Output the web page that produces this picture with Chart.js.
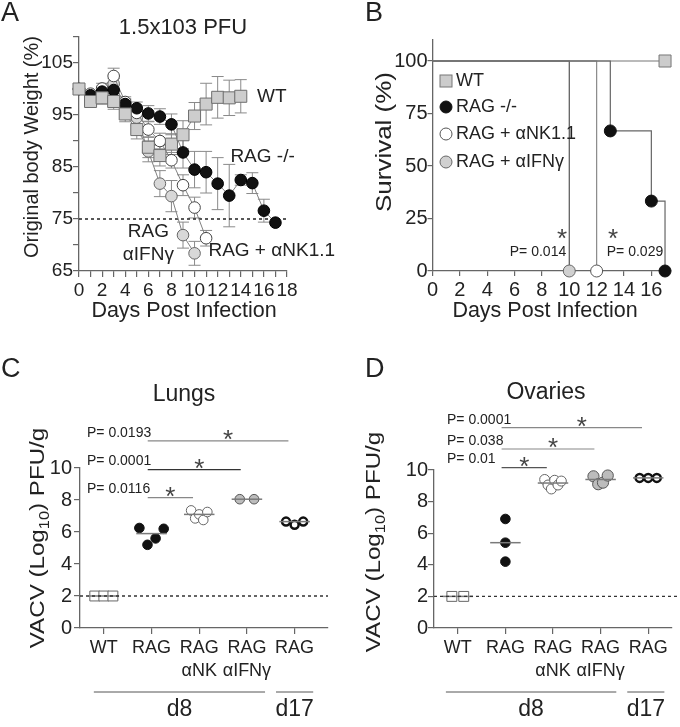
<!DOCTYPE html>
<html><head><meta charset="utf-8">
<script src="https://cdn.jsdelivr.net/npm/chart.js"></script>
<style>
html,body{margin:0;padding:0;background:#fff;}
#wrap{position:relative;width:680px;height:727px;overflow:hidden;background:#fff;}
canvas{position:absolute;}
</style></head><body>
<div id="wrap">
<canvas id="cA" width="340" height="330" style="left:0;top:0"></canvas>
<canvas id="cB" width="340" height="330" style="left:340px;top:0"></canvas>
<canvas id="cC" width="340" height="397" style="left:0;top:330px"></canvas>
<canvas id="cD" width="340" height="397" style="left:340px;top:330px"></canvas>
</div>
<script>
// ---------- Panel A: body weight ----------
const wtDays = [0,1,2,3,4,5,6,7,8,9,10,11,12,13,14];
const wtWeight = [100,97.6,98.3,97.6,95.2,92.2,88.8,87.2,89.4,91.2,94.8,97.1,98.4,98.3,98.6];
const wtSD = [0,0.8,1.2,1.5,1.5,1.8,2,2,2,2.7,2.6,4,4,3.4,3.2];
const ragDays = [0,1,2,3,4,5,6,7,8,9,10,11,12,13,14,15,16,17];
const ragWeight = [100,98.8,99.5,99.8,97.1,96.3,95.3,94.7,93.2,87.8,84.5,84.0,81.8,79.5,82.5,81.9,76.6,74.3];
const ragSD = [0,0.8,1,1,1,1.2,1.5,1.5,2,3,3.5,4,5,6,1,2,2.2,0];
const nkDays = [0,1,2,3,4,5,6,7,8,9,10,11];
const nkWeight = [100,99.1,100.1,102.5,97.5,95.4,92.2,90,86.3,81.5,77.2,71.3];
const nkSD = [0,0.5,1,1.5,1,1,1.5,1.5,1.5,2,2,1.5];
const ifnDays = [0,1,2,3,4,5,6,7,8,9,10];
const ifnWeight = [100,98.8,99.5,101,97,94.5,88,81.8,79.4,71.9,68.4];
const ifnSD = [0,0.5,1,1,1,1.5,2,2.5,3,2.5,2.3];
const weightCutoff = 75;
const dayTicks = [0,1,2,3,4,5,6,7,8,9,10,11,12,13,14,15,16,17,18];
const dayLabels = [0,2,4,6,8,10,12,14,16,18];
const weightTicks = [65,70,75,80,85,90,95,100,105,110];
const weightLabels = [65,75,85,95,105];

// ---------- Panel B: survival ----------
const wtSurvDays = [0,17],        wtSurv = [100,100];
const ragSurvDays = [0,13,16,17], ragSurv = [100,66.7,33.3,0];
const nkSurvDays = [0,12],        nkSurv = [100,0];
const ifnSurvDays = [0,10],       ifnSurv = [100,0];
const survTicks = [0,2,4,6,8,10,12,14,16];
const survYTicks = [0,25,50,75,100];
const legendLabels = ['WT','RAG -/-','RAG + \u03b1NK1.1','RAG + \u03b1IFN\u03b3'];
const survP = ['P= 0.014','P= 0.029'];

// ---------- Panels C/D: viral titers ----------
const groupLabels = ['WT','RAG',['RAG','\u03b1NK'],['RAG','\u03b1IFN\u03b3'],'RAG'];
const titerTicks = [0,2,4,6,8,10];
const lungsWT = [2,2,2];
const lungsRAG = [6.25,5.2,5.6,6.2];
const lungsNK = [7.35,6.85,7.1,6.75,7.25];
const lungsIFN = [8.05,8.05];
const lungsD17 = [6.65,6.45,6.65];
const lungsP = ['P= 0.0116','P= 0.0001','P= 0.0193'];
const ovWT = [2,2];
const ovRAG = [6.9,5.4,4.2];
const ovNK = [9.4,9.05,8.8,9.35,9.05,9.3];
const ovIFN = [9.6,9.1,9.2,9.65];
const ovD17 = [9.5,9.5,9.5];
const ovP = ['P= 0.01','P= 0.038','P= 0.0001'];
const detectionLimit = 2;
const timeGroups = ['d8','d17'];

// ---------- helpers ----------
const FONT = '"Liberation Sans", Arial, Helvetica, sans-serif';
Chart.defaults.font.family = FONT;
Chart.defaults.color = '#222';
const AX = '#666';
function T(ctx,s,x,y,o){o=o||{};const size=o.size||19;ctx.save();ctx.font=size+'px '+FONT;ctx.fillStyle=o.color||'#222';
  ctx.textBaseline=o.base||'middle';ctx.textAlign=o.align||'center';ctx.translate(x,y);if(o.rot)ctx.rotate(o.rot);if(o.sx)ctx.scale(o.sx,1);
  ctx.fillText(s,0,0);ctx.restore();}
function star(ctx,x,cy,size){T(ctx,'*',x,cy+size*0.55,{size:size,base:'alphabetic',color:'#444'});}
function yTitleSub(ctx,cx,cy,size,sx){
  const parts=[['VACV (Log',0],['10',1],[') PFU/g',0]];
  ctx.save();ctx.translate(cx,cy);ctx.rotate(-Math.PI/2);ctx.scale(sx,1);
  const f=sub=>(sub?size*0.68:size)+'px '+FONT;
  let total=0;parts.forEach(p=>{ctx.font=f(p[1]);total+=ctx.measureText(p[0]).width;});
  let x=-total/2;ctx.textBaseline='alphabetic';ctx.textAlign='left';ctx.fillStyle='#222';
  parts.forEach(p=>{ctx.font=f(p[1]);ctx.fillText(p[0],x,size*0.35+(p[1]?size*0.2:0));x+=ctx.measureText(p[0]).width;});
  ctx.restore();}
const toXY=(xs,ys)=>xs.map((x,i)=>({x:x,y:ys[i]}));
function median(a){const s=[...a].sort((p,q)=>p-q),n=s.length;return n%2?s[(n-1)/2]:(s[n/2-1]+s[n/2])/2;}
function grid(len){return {drawOnChartArea:false,drawTicks:true,tickLength:len,color:AX,lineWidth:1.2};}
const border={display:true,color:AX,width:1.3};
const baseOpts={responsive:false,devicePixelRatio:1,animation:false,plugins:{legend:{display:false},tooltip:{enabled:false}}};

const errorBarPlugin={id:'errbars',beforeDatasetsDraw(chart){
  const ctx=chart.ctx,xs=chart.scales.x,ys=chart.scales.y;
  ctx.save();ctx.strokeStyle='#8a8a8a';ctx.lineWidth=1;
  chart.data.datasets.forEach(ds=>{if(!ds.errorBars)return;
    ds.data.forEach((p,i)=>{const e=ds.errorBars[i];if(!e)return;
      const x=xs.getPixelForValue(p.x),y1=ys.getPixelForValue(p.y+e),y2=ys.getPixelForValue(p.y-e);
      ctx.beginPath();ctx.moveTo(x,y1);ctx.lineTo(x,y2);ctx.moveTo(x-6,y1);ctx.lineTo(x+6,y1);ctx.moveTo(x-6,y2);ctx.lineTo(x+6,y2);ctx.stroke();});});
  ctx.restore();}};

// ---------- Chart A ----------
function wSeries(days,vals,sd,st,order){return Object.assign({data:toXY(days,vals),errorBars:sd,showLine:true,borderColor:'#808080',borderWidth:1,
  pointBorderWidth:1,clip:false,order:order},st);}
new Chart(document.getElementById('cA'),{type:'scatter',
 data:{datasets:[
  wSeries(wtDays,wtWeight,wtSD,{pointStyle:'rect',pointRadius:8.5,pointBackgroundColor:'#cdcdcd',pointBorderColor:'#6e6e6e'},0),
  wSeries(ragDays,ragWeight,ragSD,{pointStyle:'circle',pointRadius:5.8,pointBackgroundColor:'#111',pointBorderColor:'#000'},1),
  wSeries(nkDays,nkWeight,nkSD,{pointStyle:'circle',pointRadius:5.8,pointBackgroundColor:'#fff',pointBorderColor:'#444'},2),
  wSeries(ifnDays,ifnWeight,ifnSD,{pointStyle:'circle',pointRadius:5.8,pointBackgroundColor:'#d8d8d8',pointBorderColor:'#666'},3),
  {data:[{x:0,y:weightCutoff},{x:18,y:weightCutoff}],showLine:true,borderColor:'#222',borderWidth:1.3,borderDash:[3,3],pointRadius:0,order:5}
 ]},
 options:Object.assign({},baseOpts,{layout:{padding:{left:0,right:53,top:37,bottom:0}},
  scales:{
   x:{type:'linear',min:0,max:18,afterBuildTicks:s=>{s.ticks=dayTicks.map(v=>({value:v}));},afterFit:s=>{s.height=59;},
      ticks:{autoSkip:false,maxRotation:0,padding:2,font:{size:19},callback:v=>dayLabels.includes(v)?String(v):''},grid:grid(6),border:border},
   y:{type:'linear',min:65,max:110,afterBuildTicks:s=>{s.ticks=weightTicks.map(v=>({value:v}));},afterFit:s=>{s.width=79;},
      ticks:{padding:0,font:{size:19},callback:v=>weightLabels.includes(v)?String(v):''},grid:grid(6),border:border}
  }}),
 plugins:[errorBarPlugin,{id:'txtA',afterDraw(chart){const c=chart.ctx,xs=chart.scales.x,ys=chart.scales.y;
   T(c,'A',1,14,{size:27,align:'left'});
   T(c,'1.5x103 PFU',183,28,{size:22});
   T(c,'Original body Weight (%)',32,147,{size:20,rot:-Math.PI/2});
   T(c,'Days Post Infection',184,311,{size:21.5});
   T(c,'WT',xs.getPixelForValue(15.4),ys.getPixelForValue(98.5),{size:19,align:'left'});
   T(c,'RAG -/-',xs.getPixelForValue(13.1),ys.getPixelForValue(86.9),{size:19,align:'left'});
   T(c,'RAG',xs.getPixelForValue(6.0),ys.getPixelForValue(72.5),{size:19});
   T(c,'\u03b1IFN\u03b3',xs.getPixelForValue(6.0),ys.getPixelForValue(68.1),{size:19});
   T(c,'RAG + \u03b1NK1.1',xs.getPixelForValue(11.2),ys.getPixelForValue(68.85),{size:19,align:'left'});
 }}]});

// ---------- Chart B ----------
const first0=r=>(c=>c.dataIndex===0?0:r);
const survStyles=[
 {pointStyle:'rect',r:8.5,fill:'#cccccc',stroke:'#777',line:'#777'},
 {pointStyle:'circle',r:6,fill:'#111',stroke:'#111',line:'#666'},
 {pointStyle:'circle',r:6,fill:'#fff',stroke:'#555',line:'#8a8a8a'},
 {pointStyle:'circle',r:6,fill:'#d0d0d0',stroke:'#666',line:'#555'}];
const survSeries=[[wtSurvDays,wtSurv],[ragSurvDays,ragSurv],[nkSurvDays,nkSurv],[ifnSurvDays,ifnSurv]];
new Chart(document.getElementById('cB'),{type:'scatter',
 data:{datasets:survSeries.map((s,i)=>{const st=survStyles[i];return {data:toXY(s[0],s[1]),showLine:true,stepped:true,borderColor:st.line,borderWidth:1.2,
   pointStyle:st.pointStyle,pointRadius:first0(st.r),pointBackgroundColor:st.fill,pointBorderColor:st.stroke,pointBorderWidth:1,clip:false,order:i===0?3:i-1};})},
 options:Object.assign({},baseOpts,{layout:{padding:{left:0,right:0,top:40,bottom:0}},
  scales:{
   x:{type:'linear',min:0,max:17.4,afterBuildTicks:s=>{s.ticks=survTicks.map(v=>({value:v}));},afterFit:s=>{s.height=59;},
      ticks:{autoSkip:false,maxRotation:0,padding:2,font:{size:20}},grid:grid(5),border:border},
   y:{type:'linear',min:0,max:110,afterBuildTicks:s=>{s.ticks=survYTicks.map(v=>({value:v}));},afterFit:s=>{s.width=92.5;},
      ticks:{padding:0,font:{size:20}},grid:grid(5),border:border}
  }}),
 plugins:[{id:'txtB',afterDraw(chart){const c=chart.ctx;
   T(c,'B',25,14,{size:27,align:'left'});
   T(c,'Survival (%)',45,142,{size:22,sx:1.18,rot:-Math.PI/2});
   T(c,'Days Post Infection',205,311,{size:21.5});
   const ly=[81,107,134,162];
   legendLabels.forEach((lab,i)=>{const st=survStyles[i];c.save();c.fillStyle=st.fill;c.strokeStyle=st.stroke;c.lineWidth=1;
     if(st.pointStyle==='rect'){c.fillRect(100,ly[i]-6,12,12);c.strokeRect(100,ly[i]-6,12,12);}
     else{c.beginPath();c.arc(106,ly[i],6,0,Math.PI*2);c.fill();c.stroke();}
     c.restore();T(c,lab,116,ly[i],{size:18,align:'left'});});
   star(c,222,233,26);T(c,survP[0],198,252,{size:14});
   star(c,273,233,26);T(c,survP[1],295,252,{size:14});
 }}]});

// ---------- Charts C/D ----------
function organChart(id,o){
  const ds=[];
  o.values.forEach((vals,g)=>{const st=o.styles[g],n=vals.length,w=o.spread[g];
    ds.push({data:vals.map((v,i)=>({x:g+(i-(n-1)/2)*w,y:v})),pointStyle:st.style||'circle',pointRadius:st.r,pointBackgroundColor:st.fill,
      pointBorderColor:st.stroke,pointBorderWidth:st.bw||1,showLine:false,clip:false,order:2});
    const m=median(vals);
    ds.push({data:[{x:g-0.32,y:m},{x:g+0.32,y:m}],showLine:true,borderColor:'#7a7a7a',borderWidth:1.5,pointRadius:0,clip:false,order:1});});
  o.sig.forEach(s=>ds.push({data:[{x:s.from-0.08,y:s.y},{x:s.to-0.13,y:s.y}],showLine:true,borderColor:s.color,borderWidth:1.2,pointRadius:0,clip:false,order:1}));
  ds.push({data:[{x:-0.5,y:detectionLimit},{x:o.dashEnd,y:detectionLimit}],showLine:true,borderColor:'#333',borderWidth:1.3,borderDash:[3,3],pointRadius:0,clip:false,order:0});
  return new Chart(document.getElementById(id),{type:'scatter',data:{datasets:ds},
   options:Object.assign({},baseOpts,{layout:{padding:{left:0,right:o.padRight,top:o.padTop,bottom:0}},
    scales:{
     x:{type:'linear',min:-0.5,max:o.xmax,afterBuildTicks:s=>{s.ticks=groupLabels.map((_,i)=>({value:i}));},afterFit:s=>{s.height=99;},
        ticks:{autoSkip:false,maxRotation:0,padding:3,font:{size:18,lineHeight:1.25},callback:v=>groupLabels[v]},grid:grid(6),border:border},
     y:{type:'linear',min:0,max:10,afterBuildTicks:s=>{s.ticks=titerTicks.map(v=>({value:v}));},afterFit:s=>{s.width=o.yWidth;},
        ticks:{padding:o.yPad,font:{size:20}},grid:grid(6),border:border}
    }}),
   plugins:[{id:'txt'+id,afterDraw(chart){const c=chart.ctx,xs=chart.scales.x,ys=chart.scales.y,ca=chart.chartArea;
     T(c,o.letter,o.letterX,40,{size:27,align:'left'});
     T(c,o.title,o.titleX,o.titleY,{size:23});
     yTitleSub(c,o.yTitleX,o.yTitleY,21,1.15);
     o.sig.forEach((s,i)=>{const y=ys.getPixelForValue(s.y),x1=xs.getPixelForValue(s.from-0.08),x2=xs.getPixelForValue(s.to-0.13);
       star(c,(x1+x2)/2+(s.to-2)*5,y-7,26);T(c,o.pLabels[i],o.pX,y-8,{size:14,align:'left'});});
     const yb=ca.bottom+64;c.save();c.strokeStyle='#555';c.lineWidth=1;
     o.brackets.forEach((b,i)=>{const a=xs.getPixelForValue(b[0]),z=xs.getPixelForValue(b[1]);
       c.beginPath();c.moveTo(a,yb);c.lineTo(z,yb);c.stroke();T(c,timeGroups[i],(a+z)/2,yb+18,{size:23});});
     c.restore();
   }}]});
}
const gStyles=(ifnR,nkR)=>[
 {style:'rect',r:7,fill:'#fff',stroke:'#666'},
 {r:4.8,fill:'#111',stroke:'#111'},
 {r:nkR,fill:'#fff',stroke:'#666'},
 {r:ifnR,fill:'#bcbcbc',stroke:'#555'},
 {r:4,fill:'#fff',stroke:'#111',bw:2.5}];
organChart('cC',{letter:'C',letterX:1,title:'Lungs',titleX:184,titleY:65,yTitleX:37,yTitleY:208,
 values:[lungsWT,lungsRAG,lungsNK,lungsIFN,lungsD17],spread:[0.19,0.17,0.085,0.3,0.18],styles:gStyles(4.8,4.8),
 xmax:4.7,dashEnd:4.7,yWidth:80,yPad:2,padRight:12,padTop:138,
 sig:[{from:1,to:2,y:8.15,color:'#888'},{from:1,to:3,y:9.9,color:'#333'},{from:1,to:4,y:11.7,color:'#888'}],
 pLabels:lungsP,pX:87,brackets:[[-0.21,3.38],[3.61,4.39]]});
organChart('cD',{letter:'D',letterX:25,title:'Ovaries',titleX:206,titleY:63,yTitleX:33,yTitleY:212,
 values:[ovWT,ovRAG,ovNK,ovIFN,ovD17],spread:[0.25,0,0.07,0.1,0.18],styles:gStyles(5.6,5),
 xmax:4.5,dashEnd:4.64,yWidth:94,yPad:0,padRight:7,padTop:140,
 sig:[{from:1,to:2,y:10.15,color:'#555'},{from:1,to:3,y:11.33,color:'#888'},{from:1,to:4,y:12.68,color:'#888'}],
 pLabels:ovP,pX:107,brackets:[[-0.25,3.33],[3.56,4.34]]});
</script>
</body></html>
